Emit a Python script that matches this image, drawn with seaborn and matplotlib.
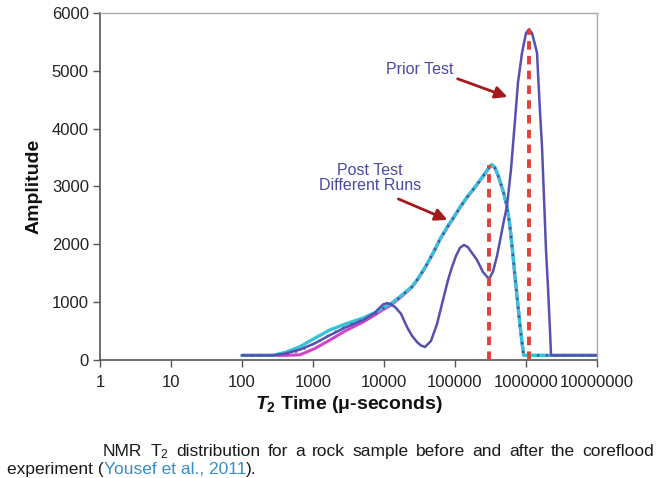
import matplotlib
matplotlib.use("Agg")
import matplotlib.pyplot as plt
from matplotlib.ticker import NullLocator, FixedLocator, FixedFormatter
import seaborn as sns

# ---------------- data ----------------
prior_t2 = [100, 273, 403, 656, 1068, 1736, 2823, 5063, 7470, 9680, 11020, 12550,
            14290, 17350, 21080, 24780, 29160, 33200, 37780, 45900, 55740, 67710,
            79640, 90770, 103300, 117600, 133900, 152400, 173500, 204200, 248000,
            301300, 343000, 390600, 444600, 490100, 540300, 615100, 700300, 771600,
            878500, 1000000, 1102000, 1216000, 1340000, 1429000, 1574000, 1679000,
            1793000, 1913000, 2042000, 2179000, 2251000, 10000000]
prior_amp = [80, 80, 110, 180, 290, 430, 560, 690, 820, 960, 985, 960,
             917, 800, 570, 420, 311, 250, 225, 330, 620, 1038,
             1380, 1609, 1800, 1940, 1990, 1950, 1850, 1730, 1520,
             1400, 1530, 1800, 2150, 2420, 2664, 3300, 4150, 4800,
             5310, 5650, 5720, 5650, 5450, 5310, 4300, 3700,
             2800, 1900, 1250, 500, 80, 80]

post_t2 = [100, 273, 403, 656, 1068, 1736, 2823, 5063, 7470, 9680, 12550, 17350,
           24780, 29160, 37780, 49000, 62000, 79640, 97000, 120000, 150000, 185000,
           225000, 265000, 301300, 330000, 365000, 404000, 444600, 490100, 540300,
           590000, 645000, 700000, 770000, 830000, 880000, 930000, 10000000]
post_cyan = [80, 80, 130, 230, 380, 520, 620, 726, 820, 900, 975, 1110,
             1270, 1384, 1600, 1850, 2100, 2320, 2480, 2660, 2830, 2970,
             3110, 3230, 3330, 3380, 3330, 3200, 3040, 2870, 2650,
             2350, 1900, 1450, 950, 560, 300, 80, 80]
post_magenta = [80, 80, 80, 90, 200, 346, 500, 657, 780, 870, 950, 1090,
                1260, 1375, 1590, 1840, 2090, 2310, 2470, 2650, 2820, 2960,
                3100, 3220, 3320, 3370, 3320, 3190, 3030, 2860, 2640,
                2340, 1890, 1440, 940, 550, 290, 80, 80]
post_blue = [80, 80, 100, 160, 290, 440, 570, 700, 800, 890, 965, 1100,
             1265, 1380, 1595, 1845, 2095, 2315, 2475, 2655, 2825, 2965,
             3105, 3225, 3325, 3375, 3325, 3195, 3035, 2865, 2645,
             2345, 1895, 1445, 945, 555, 295, 80, 80]

peak_t2 = [300000, 1100000]
peak_amp = [3380, 5720]

x_ticks = [1, 10, 100, 1000, 10000, 100000, 1000000, 10000000]
x_tick_labels = ["1", "10", "100", "1000", "10000", "100000", "1000000", "10000000"]
y_ticks = [0, 1000, 2000, 3000, 4000, 5000, 6000]

# ---------------- style ----------------
sns.set_theme(style="white")
plt.rcParams["font.family"] = ["Liberation Sans", "DejaVu Sans"]
plt.rcParams["mathtext.fontset"] = "custom"
plt.rcParams["mathtext.it"] = "Liberation Sans:italic:bold"
plt.rcParams["mathtext.rm"] = "Liberation Sans:bold"
plt.rcParams["mathtext.bf"] = "Liberation Sans:bold"

W, H = 660, 478
fig = plt.figure(figsize=(W / 100, H / 100), dpi=100)
fig.patch.set_facecolor("white")
ax = fig.add_axes([100 / W, 1 - 360 / H, 497 / W, 347 / H])
ax.set_facecolor("white")

# post-test runs
sns.lineplot(x=post_t2, y=post_magenta, ax=ax, color="#d045c8", lw=2.2,
             estimator=None, sort=False)
sns.lineplot(x=post_t2, y=post_cyan, ax=ax, color="#35c4d6", lw=2.4,
             estimator=None, sort=False)
sns.lineplot(x=post_t2, y=post_blue, ax=ax, color="#4a48a8", lw=1.6,
             linestyle=(0, (1, 3)), estimator=None, sort=False)
# prior test
sns.lineplot(x=prior_t2, y=prior_amp, ax=ax, color="#5650b0", lw=1.8,
             estimator=None, sort=False)

# red dashed peak markers
for xt, ya in zip(peak_t2, peak_amp):
    ax.plot([xt, xt], [0, ya], color="#e2403a", lw=2.8,
            linestyle=(0, (2.2, 1.6)), zorder=5)

ax.set_xscale("log")
ax.set_xlim(1, 1e7)
ax.set_ylim(0, 6000)
ax.xaxis.set_major_locator(FixedLocator(x_ticks))
ax.xaxis.set_major_formatter(FixedFormatter(x_tick_labels))
ax.xaxis.set_minor_locator(NullLocator())
ax.set_yticks(y_ticks)
ax.set_yticklabels([str(v) for v in y_ticks])
ax.tick_params(axis="both", which="major", bottom=True, left=True,
               direction="out", length=5, width=1, color="#555555",
               labelsize=12, labelcolor="#222222", pad=3)
ax.tick_params(axis="x", pad=6)

for s in ["left", "bottom"]:
    ax.spines[s].set_color("#555555")
    ax.spines[s].set_linewidth(1.2)
for s in ["top", "right"]:
    ax.spines[s].set_color("#aaaaaa")
    ax.spines[s].set_linewidth(1.0)

ax.set_ylabel("Amplitude", fontsize=14, fontweight="bold", color="#111111",
              labelpad=7)
ax.set_xlabel(r"$\mathit{T}_\mathregular{2}$ Time (μ-seconds)", fontsize=14,
              fontweight="bold", color="#111111", labelpad=3)

# annotations
txt_col = "#4b4aa3"
arr_col = "#a3191c"
ax.annotate("", xy=(5.96e5, 4533), xytext=(1.0e5, 4879),
            arrowprops=dict(arrowstyle="-|>,head_length=0.6,head_width=0.3",
                            color=arr_col, lw=2), zorder=6)
ax.text(32100, 5017, "Prior Test", color=txt_col, fontsize=11.5,
        ha="center", va="center")
ax.annotate("", xy=(85000, 2405), xytext=(14700, 2803),
            arrowprops=dict(arrowstyle="-|>,head_length=0.6,head_width=0.3",
                            color=arr_col, lw=2), zorder=6)
ax.text(6300, 3149, "Post Test\nDifferent Runs", color=txt_col, fontsize=11.5,
        ha="center", va="center", linespacing=1.05)

# ---------------- caption ----------------
cap_font = ["Liberation Sans", "DejaVu Sans"]
cap_size = 12.5
renderer = fig.canvas.get_renderer()


def put(x_px, base_px, s, color="#1a1a1a"):
    t = fig.text(x_px / W, 1 - base_px / H, s, color=color, fontsize=cap_size,
                 family=cap_font, ha="left", va="baseline")
    return t, t.get_window_extent(renderer).width


line1 = ["NMR", r"T$_\mathregular{2}$", "distribution", "for", "a", "rock",
         "sample", "before", "and", "after", "the", "coreflood"]
texts = []
widths = []
for w in line1:
    t, wd = put(0, 456, w)
    texts.append(t)
    widths.append(wd)
x0, x1 = 103, 654
gap = (x1 - x0 - sum(widths)) / (len(line1) - 1)
x = x0
for t, wd in zip(texts, widths):
    t.set_x(x / W)
    x += wd + gap

x = 7
for s, c in [("experiment (", "#1a1a1a"), ("Yousef et al., 2011", "#3a8cc4"),
             (").", "#1a1a1a")]:
    t, wd = put(x, 474, s, c)
    x += wd

fig.savefig("out.png", dpi=100)
